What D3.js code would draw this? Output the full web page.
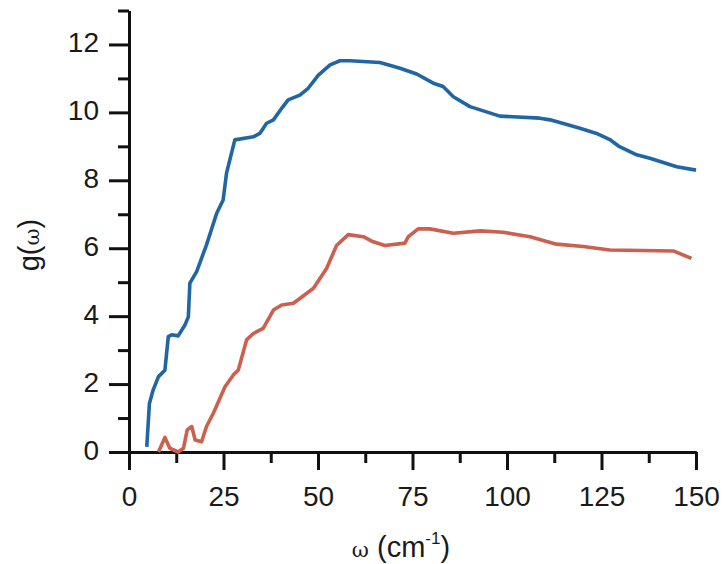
<!DOCTYPE html>
<html><head><meta charset="utf-8">
<script src="https://cdn.jsdelivr.net/npm/d3@7"></script>
<style>body{margin:0;background:#fff}svg{display:block}</style>
</head><body>
<svg id="c" width="726" height="564"></svg>
<script>
const blueW = [4.7,5.4,6.4,7.8,9.5,10.4,11.3,13.0,14.8,15.7,16.1,17.9,20.5,23.2,24.9,25.8,28.0,32.9,34.7,36.4,38.2,40.4,42.1,45.2,47.4,50.1,53.2,55.8,58.5,66.4,71.7,76.1,80.5,83.1,85.8,90.2,98.1,108.7,111.4,119.3,123.7,127.2,129.5,134.3,137.8,144.9,150.0];
const blueG = [0.15,1.43,1.83,2.22,2.41,3.40,3.45,3.42,3.74,3.98,4.97,5.31,6.10,7.03,7.42,8.21,9.19,9.28,9.39,9.68,9.78,10.12,10.37,10.51,10.71,11.10,11.40,11.52,11.52,11.47,11.30,11.13,10.86,10.76,10.46,10.17,9.89,9.83,9.78,9.53,9.38,9.20,9.01,8.75,8.65,8.40,8.30];
const redW = [7.8,9.5,10.8,13.0,14.4,15.4,16.6,17.5,19.2,20.5,22.3,25.4,27.6,28.9,31.1,32.9,35.5,38.2,40.4,43.5,48.8,52.3,54.9,58.0,62.0,64.6,67.7,73.0,73.9,76.5,79.6,85.8,92.9,99.0,106.1,113.1,120.2,127.2,144.0,148.8];
const redG = [0.0,0.43,0.11,0.0,0.11,0.65,0.75,0.35,0.30,0.75,1.14,1.92,2.27,2.41,3.30,3.49,3.64,4.18,4.33,4.38,4.82,5.41,6.08,6.40,6.34,6.19,6.08,6.15,6.34,6.57,6.57,6.44,6.51,6.47,6.34,6.12,6.05,5.95,5.92,5.70];
const xMajor = [0,25,50,75,100,125,150];
const xMinor = [12.5,37.5,62.5,87.5,112.5,137.5];
const yMajor = [0,2,4,6,8,10,12];
const yMinor = [1,3,5,7,9,11,13];

const svg = d3.select("#c");
const x = d3.scaleLinear().domain([0,150]).range([129,696]);
const y = d3.scaleLinear().domain([0,13]).range([452,10.5]);
const font = "'Liberation Sans', Arial, sans-serif";

function styleAxis(g){
  g.select(".domain").attr("stroke","#111").attr("stroke-width",3);
  g.selectAll(".tick line").attr("stroke","#111").attr("stroke-width",3);
  g.selectAll("text").attr("fill","#1a1a1a").style("font-family",font).style("font-size","28px");
}
// x axis
const gxMin = svg.append("g").attr("transform","translate(0,452)")
  .call(d3.axisBottom(x).tickValues(xMinor).tickSize(11).tickFormat("").tickSizeOuter(0));
styleAxis(gxMin);
const gx = svg.append("g").attr("transform","translate(0,452)")
  .call(d3.axisBottom(x).tickValues(xMajor).tickSize(18).tickPadding(16).tickFormat(d3.format("d")).tickSizeOuter(0));
styleAxis(gx);
// y axis
const gyMin = svg.append("g").attr("transform","translate(129,0)")
  .call(d3.axisLeft(y).tickValues(yMinor).tickSize(11).tickFormat("").tickSizeOuter(0));
styleAxis(gyMin);
const gy = svg.append("g").attr("transform","translate(129,0)")
  .call(d3.axisLeft(y).tickValues(yMajor).tickSize(20).tickPadding(10).tickFormat(d3.format("d")).tickSizeOuter(0));
styleAxis(gy);
gy.selectAll("text").attr("dy","0.25em");

const line = d3.line().x(d=>x(d[0])).y(d=>y(d[1]));
svg.append("path").datum(blueW.map((w,i)=>[w,blueG[i]]))
  .attr("d",line).attr("fill","none").attr("stroke","#2166a4").attr("stroke-width",3.6).attr("stroke-linejoin","round");
svg.append("path").datum(redW.map((w,i)=>[w,redG[i]]))
  .attr("d",line).attr("fill","none").attr("stroke","#cd5f4f").attr("stroke-width",3.6).attr("stroke-linejoin","round");

// axis titles
const xt = svg.append("text").attr("x",401).attr("y",557).attr("text-anchor","middle")
  .style("font-family",font).style("font-size","29px").attr("fill","#1a1a1a");
xt.append("tspan").text("ω").style("font-family","'DejaVu Serif', serif").style("font-size","21px");
xt.append("tspan").text(" (cm");
xt.append("tspan").text("-1").attr("dy",-13).style("font-size","17px");
xt.append("tspan").text(")").attr("dy",13);

const yt = svg.append("text").attr("transform","translate(39,245) rotate(-90)").attr("text-anchor","middle")
  .style("font-family",font).style("font-size","29px").attr("fill","#1a1a1a");
yt.append("tspan").text("g(");
yt.append("tspan").text("ω").style("font-family","'DejaVu Serif', serif").style("font-size","21px");
yt.append("tspan").text(")");
</script>
</body></html>
